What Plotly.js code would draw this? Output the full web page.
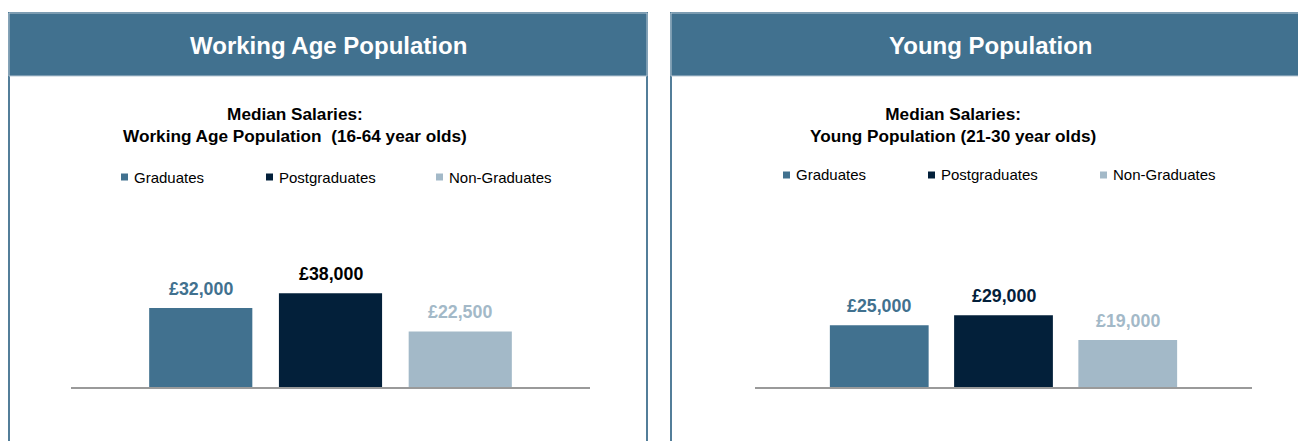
<!DOCTYPE html>
<html>
<head>
<meta charset="utf-8">
<script src="https://cdn.plot.ly/plotly-3.0.1.min.js"></script>
<style>
  html, body { margin: 0; padding: 0; background: #ffffff; }
  #chart { width: 1298px; height: 441px; }
</style>
</head>
<body>
<div id="chart"></div>
<script>
// ---- data ----
const categories = ['Graduates', 'Postgraduates', 'Non-Graduates'];
const workingAgeSalaries = [32000, 38000, 22500];
const youngSalaries = [25000, 29000, 19000];
const panelHeaders = ['Working Age Population', 'Young Population'];
const chartTitles = [
  'Median Salaries:<br>Working Age Population  (16-64 year olds)',
  'Median Salaries:<br>Young Population (21-30 year olds)'
];

// ---- style ----
const W = 1298, H = 441;
const FONT = 'Liberation Sans, Arial, sans-serif';
const HEADER_BLUE = '#41718f';
const seriesColors = ['#41718f', '#03203a', '#a3b9c8'];
const labelColors = [['#41718f', '#000000', '#a3b9c8'], ['#41718f', '#03203a', '#a3b9c8']];
const px = x => x / W;
const py = y => 1 - y / H;

const panels = [
  { values: workingAgeSalaries, xa: 'x', ya: 'y', x0: 9, x1: 647, plot: [71, 590], titleX: 295, titleY: 125,
    legendMarks: [121, 266, 436], legendY: 177 },
  { values: youngSalaries, xa: 'x2', ya: 'y2', x0: 671, x1: 1310, plot: [755, 1252], titleX: 953, titleY: 125,
    legendMarks: [783, 928, 1100], legendY: 175 }
];

const traces = [];
const annotations = [];
const shapes = [];

panels.forEach((p, pi) => {
  // panel border + header
  shapes.push({ type: 'rect', xref: 'paper', yref: 'paper', x0: px(p.x0), x1: px(p.x1), y0: py(450), y1: py(13),
    line: { color: HEADER_BLUE, width: 1.8 }, fillcolor: 'rgba(0,0,0,0)', layer: 'below' });
  shapes.push({ type: 'rect', xref: 'paper', yref: 'paper', x0: px(p.x0), x1: px(p.x1), y0: py(76), y1: py(13),
    line: { color: '#b8c8d4', width: 1 }, fillcolor: HEADER_BLUE, layer: 'below' });
  annotations.push({ xref: 'paper', yref: 'paper', x: px((p.x0 + p.x1) / 2), y: py(45),
    xanchor: 'center', yanchor: 'middle', showarrow: false,
    text: '<b>' + panelHeaders[pi] + '</b>', font: { family: FONT, size: 24, color: '#ffffff' } });
  // chart title
  annotations.push({ xref: 'paper', yref: 'paper', x: px(p.titleX), y: py(p.titleY),
    xanchor: 'center', yanchor: 'middle', showarrow: false, align: 'center',
    text: '<b>' + chartTitles[pi] + '</b>', font: { family: FONT, size: 17.2, color: '#000000' } });

  categories.forEach((c, i) => {
    traces.push({
      type: 'bar', x: [c], y: [p.values[i]], name: c, xaxis: p.xa, yaxis: p.ya,
      marker: { color: seriesColors[i], line: { width: 0 } }, showlegend: false,
      hovertemplate: c + ': £%{y:,.0f}<extra></extra>'
    });
    annotations.push({
      xref: p.xa, yref: p.ya, x: c, y: p.values[i], yshift: 19,
      xanchor: 'center', yanchor: 'middle', showarrow: false,
      text: '<b>£' + p.values[i].toLocaleString('en-GB') + '</b>',
      font: { family: FONT, size: 17.8, color: labelColors[pi][i] }
    });
    // legend entry
    const mx = p.legendMarks[i];
    shapes.push({ type: 'rect', xref: 'paper', yref: 'paper', x0: px(mx), x1: px(mx + 7),
      y0: py(p.legendY + 3.5), y1: py(p.legendY - 3.5), line: { width: 0 }, fillcolor: seriesColors[i] });
    annotations.push({ xref: 'paper', yref: 'paper', x: px(mx + 11), y: py(p.legendY),
      xanchor: 'left', yanchor: 'middle', showarrow: false, text: c,
      font: { family: FONT, size: 15, color: '#000000' } });
  });
});

const yDomain = [54 / H, (H - 189.4) / H];
const xaxisBase = {
  type: 'category', range: [-1, 3], showline: true, linecolor: '#9a9a9a', linewidth: 1.5,
  showticklabels: false, ticks: '', showgrid: false, zeroline: false, fixedrange: true
};
const yaxisBase = { range: [0, 80000], visible: false, showgrid: false, zeroline: false, fixedrange: true, domain: yDomain };

const layout = {
  width: W, height: H,
  margin: { l: 0, r: 0, t: 0, b: 0, pad: 0 },
  paper_bgcolor: '#ffffff', plot_bgcolor: 'rgba(0,0,0,0)',
  barmode: 'overlay', bargap: 0.205,
  showlegend: false,
  font: { family: FONT },
  xaxis: Object.assign({}, xaxisBase, { domain: [px(panels[0].plot[0]), px(panels[0].plot[1])], anchor: 'y' }),
  yaxis: Object.assign({}, yaxisBase, { anchor: 'x' }),
  xaxis2: Object.assign({}, xaxisBase, { domain: [px(panels[1].plot[0]), px(panels[1].plot[1])], anchor: 'y2' }),
  yaxis2: Object.assign({}, yaxisBase, { anchor: 'x2' }),
  shapes: shapes,
  annotations: annotations
};

Plotly.newPlot('chart', traces, layout, { displayModeBar: false, staticPlot: true });
</script>
</body>
</html>
